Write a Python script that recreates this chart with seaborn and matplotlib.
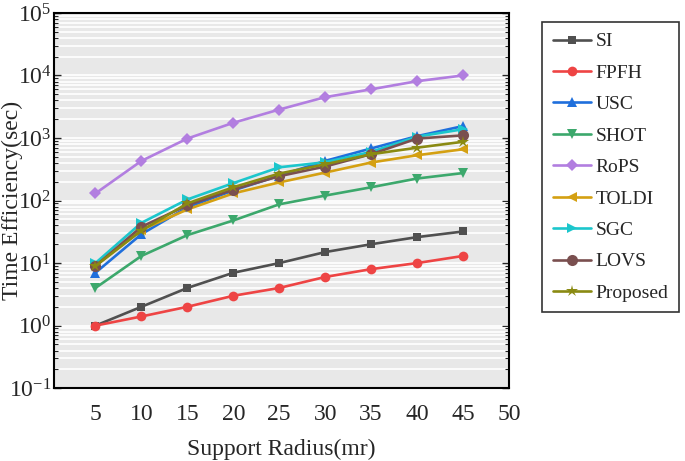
import matplotlib.pyplot as plt
import matplotlib.ticker as mticker
from matplotlib import font_manager as fm
import seaborn as sns
import numpy as np
import pandas as pd

# 数据准备
radius = [5, 10, 15, 20, 25, 30, 35, 40, 45]
si = [1, 2, 4, 7, 10, 15, 20, 26, 32]
fpfh = [1, 1.4, 2, 3, 4, 6, 8, 10, 13]
usc = [7, 29, 78, 145, 250, 430, 680, 1070, 1550]
shot = [4, 13, 28, 48, 87, 120, 163, 225, 275]
rops = [130, 430, 980, 1750, 2850, 4500, 6000, 8100, 10000]
toldi = [9, 34, 72, 130, 195, 280, 405, 530, 660]
sgc = [10, 44, 104, 190, 340, 410, 600, 1050, 1380]
lovs = [9, 38, 84, 150, 245, 350, 550, 980, 1100]
proposed = [9, 33, 90, 163, 270, 380, 550, 700, 870]

names = ['SI', 'FPFH', 'USC', 'SHOT', 'RoPS', 'TOLDI', 'SGC', 'LOVS', 'Proposed']
series = [si, fpfh, usc, shot, rops, toldi, sgc, lovs, proposed]
colors = ['#505050', '#ee4444', '#1f6fdc', '#3ca86c', '#b27ee0',
          '#d4a012', '#1cc6cc', '#7a4f4f', '#8a8a12']
markers = ['s', 'o', '^', 'v', 'D', '<', '>', 'o', '*']
msizes = [6, 7, 7, 7, 6, 7, 7, 8, 9]

# 字体: 找 Liberation Serif 文件
for f in fm.findSystemFonts():
    if 'LiberationSerif' in f.replace(' ', ''):
        fm.fontManager.addfont(f)

sns.set_style("dark", {"axes.facecolor": "#e8e8e8", "axes.edgecolor": "black",
                       "grid.color": "white"})
plt.rcParams['font.family'] = ['Liberation Serif', 'DejaVu Serif']
plt.rcParams['mathtext.fontset'] = 'stix'

fig = plt.figure(figsize=(6.85, 4.61), dpi=100)
ax = fig.add_axes([0.079, 0.158, 0.664, 0.814])

for name, vals, c, m, ms in zip(names, series, colors, markers, msizes):
    df = pd.DataFrame({'r': radius, 't': vals})
    sns.lineplot(data=df, x='r', y='t', ax=ax, color=c, marker=m,
                 markersize=ms, markeredgewidth=0, linewidth=1.9, label=name)

ax.set_yscale('log')
ax.set_ylim(0.1, 1e5)
ax.set_xlim(0.5, 50)
ax.set_xticks([5, 10, 15, 20, 25, 30, 35, 40, 45, 50])
ax.yaxis.set_major_locator(mticker.LogLocator(base=10, numticks=10))
ax.yaxis.set_minor_locator(mticker.LogLocator(base=10, subs=np.arange(2, 10), numticks=20))
ax.yaxis.set_minor_formatter(mticker.NullFormatter())
ax.grid(True, axis='y', which='both', color='white', linewidth=1.2)
ax.grid(False, axis='x')
ax.tick_params(axis='y', which='both', direction='in', left=True, right=True,
               labelsize=17, pad=2)
ax.tick_params(axis='y', which='major', length=5, width=1)
ax.tick_params(axis='y', which='minor', length=3, width=0.8)
ax.tick_params(axis='x', bottom=False, labelsize=17, pad=8)
for sp in ax.spines.values():
    sp.set_linewidth(1.5)
    sp.set_color('black')

ax.set_xlabel('Support Radius(mr)', fontsize=17)
ax.xaxis.set_label_coords(0.5, -0.134)
ax.set_ylabel('Time Efficiency(sec)', fontsize=17)
ax.yaxis.set_label_coords(-0.068, 0.5)

leg = ax.legend(loc='upper left', bbox_to_anchor=(0.791, 0.952), bbox_transform=fig.transFigure,
                fontsize=14, frameon=True, fancybox=False, edgecolor='black',
                handlelength=2.0, labelspacing=0.71, borderpad=0.55, handletextpad=0.2,
                borderaxespad=0)
leg.get_frame().set_linewidth(1.2)
leg.get_frame().set_facecolor('white')

fig.savefig('out.png', dpi=100)
